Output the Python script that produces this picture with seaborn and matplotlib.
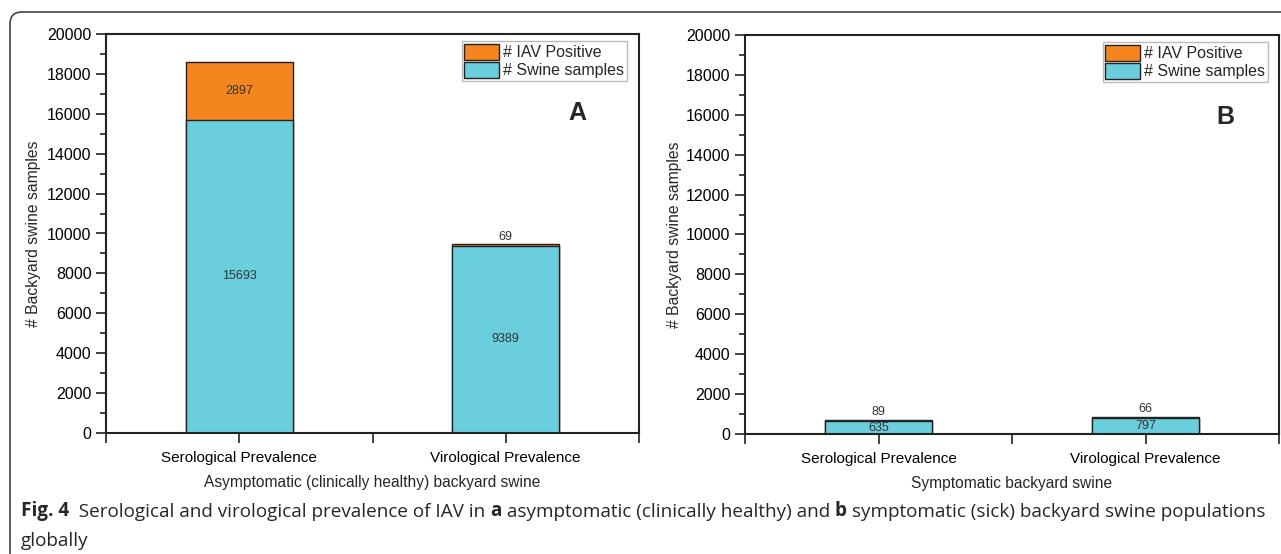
import numpy as np
import pandas as pd
import matplotlib
matplotlib.use("Agg")
import matplotlib.pyplot as plt
import seaborn as sns
from matplotlib.patches import Patch, FancyBboxPatch
from matplotlib.ticker import MultipleLocator, FixedLocator
from matplotlib.transforms import IdentityTransform

# ---- data -------------------------------------------------------------
categories = ["Serological Prevalence", "Virological Prevalence"]
swine_asym = [15693, 9389]      # swine samples, asymptomatic
iav_asym = [2897, 69]           # IAV positive, asymptomatic
swine_sym = [635, 797]          # swine samples, symptomatic
iav_sym = [89, 66]              # IAV positive, symptomatic
panel_titles = ["Asymptomatic (clinically healthy) backyard swine",
                "Symptomatic backyard swine"]
panel_letters = ["A", "B"]
y_ticks = [0, 2000, 4000, 6000, 8000, 10000, 12000, 14000, 16000, 18000, 20000]

ORANGE = "#F5861F"
CYAN = "#6BCEDD"

sns.set_style("ticks")
plt.rcParams["font.family"] = ["Liberation Sans", "DejaVu Sans"]

W, H = 1281, 554
fig = plt.figure(figsize=(W / 100, H / 100), dpi=100)

def px_axes(l, t, r, b):
    return fig.add_axes([l / W, 1 - b / H, (r - l) / W, (b - t) / H])

ax_a = px_axes(106, 34, 639, 433)
ax_b = px_axes(745, 35, 1279, 434)

panels = [
    (ax_a, swine_asym, iav_asym, (0.977, 0.982), (0.884, 0.802), -0.122),
    (ax_b, swine_sym, iav_sym, (0.979, 0.982), (0.899, 0.794), -0.118),
]

for i, (ax, swine, iav, leg_anchor, letter_pos, ylab_x) in enumerate(panels):
    totals = [s + v for s, v in zip(swine, iav)]
    df_tot = pd.DataFrame({"cat": categories, "val": totals})
    df_sw = pd.DataFrame({"cat": categories, "val": swine})
    # stacked bars: full height in orange, swine portion overlaid in cyan
    sns.barplot(data=df_tot, x="cat", y="val", color=ORANGE, saturation=1,
                edgecolor="#222222", linewidth=1, width=0.4, ax=ax)
    sns.barplot(data=df_sw, x="cat", y="val", color=CYAN, saturation=1,
                edgecolor="#222222", linewidth=1, width=0.4, ax=ax)

    ax.set_xlim(-0.5, 1.5)
    ax.set_ylim(0, 20000)
    ax.yaxis.set_major_locator(FixedLocator(y_ticks))
    ax.yaxis.set_minor_locator(MultipleLocator(1000))
    ax.xaxis.set_minor_locator(FixedLocator([-0.5, 0.5, 1.5]))
    ax.tick_params(axis="both", which="major", direction="out", length=7,
                   width=1.2, colors="#222222", labelcolor="black")
    ax.tick_params(axis="y", which="major", labelsize=11.5)
    ax.tick_params(axis="x", which="major", labelsize=11, pad=6)
    ax.tick_params(axis="y", which="minor", direction="out", length=4, width=1.2,
                   colors="#222222")
    ax.tick_params(axis="x", which="minor", direction="out", length=7, width=1.2,
                   colors="#222222")
    for sp in ax.spines.values():
        sp.set_visible(True)
        sp.set_linewidth(1.5)
        sp.set_color("#222222")

    ax.set_ylabel("# Backyard swine samples", fontsize=11.3)
    ax.yaxis.set_label_coords(ylab_x, 0.5)
    ax.set_xlabel(panel_titles[i], fontsize=11.2)
    ax.xaxis.set_label_coords(0.5, -0.105)

    # value labels
    for x, (s, v, t) in enumerate(zip(swine, iav, totals)):
        ax.text(x, s / 2, f"{s}", ha="center", va="center", fontsize=9,
                color="#333333")
        if v > 1000:
            ax.text(x, s + v / 2, f"{v}", ha="center", va="center",
                    fontsize=9, color="#333333")
        else:
            ax.annotate(f"{v}", xy=(x, t), xytext=(0, 1),
                        textcoords="offset points", ha="center", va="bottom",
                        fontsize=9, color="#333333")

    handles = [Patch(facecolor=ORANGE, edgecolor="#222222", linewidth=1),
               Patch(facecolor=CYAN, edgecolor="#222222", linewidth=1)]
    leg = ax.legend(handles, ["# IAV Positive", "# Swine samples"],
                    loc="upper right", bbox_to_anchor=leg_anchor,
                    borderaxespad=0, fontsize=11.5, frameon=True, fancybox=False,
                    handlelength=2.2, handleheight=1.2, labelspacing=0.1,
                    handletextpad=0.25, borderpad=0.15)
    leg.get_frame().set_edgecolor("#aaaaaa")
    leg.get_frame().set_linewidth(1)

    ax.text(letter_pos[0], letter_pos[1], panel_letters[i], transform=ax.transAxes,
            ha="center", va="center", fontsize=18, fontweight="bold")

# caption with bold fragments, laid out piece by piece
cap_font = ["Open Sans", "DejaVu Sans"]
cap_size = 13.6
pieces = [("Fig. 4", "bold"), ("  Serological and virological prevalence of IAV in ", "normal"),
          ("a", "bold"), (" asymptomatic (clinically healthy) and ", "normal"),
          ("b", "bold"), (" symptomatic (sick) backyard swine populations", "normal")]
prev = None
for txt, wt in pieces:
    if prev is None:
        prev = fig.text(21 / W, 1 - 521 / H, txt, fontsize=cap_size, fontweight=wt,
                        family=cap_font, ha="left", va="bottom")
    else:
        prev = fig.add_artist(matplotlib.text.Annotation(
            txt, xy=(1, 0), xycoords=prev, ha="left", va="bottom",
            fontsize=cap_size, fontweight=wt, family=cap_font))
fig.text(21 / W, 1 - 550 / H, "globally", fontsize=cap_size, family=cap_font,
         ha="left", va="bottom")

# rounded frame around the figure
frame = FancyBboxPatch((10, -30), 1400, H - 12 + 30,
                       boxstyle="round,pad=0,rounding_size=12",
                       transform=IdentityTransform(), facecolor="none",
                       edgecolor="#444444", linewidth=1.2)
fig.add_artist(frame)

fig.savefig("out.png", dpi=100)
